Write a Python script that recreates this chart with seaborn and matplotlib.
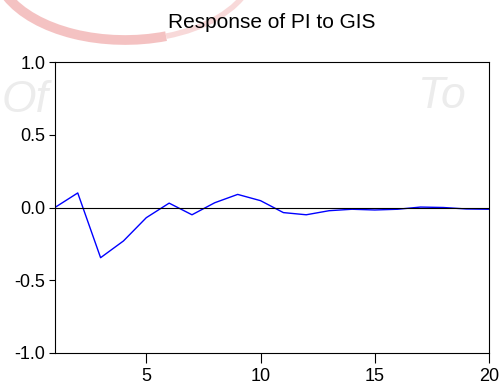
import matplotlib
matplotlib.use("Agg")
import matplotlib.pyplot as plt
import seaborn as sns
import pandas as pd
from matplotlib.patches import Arc

# impulse response of PI to a GIS shock
periods = list(range(1, 21))
response = [0.0, 0.10, -0.345, -0.23, -0.07, 0.03, -0.05, 0.033, 0.09, 0.047,
            -0.035, -0.05, -0.022, -0.012, -0.017, -0.012, 0.003, 0.0, -0.01, -0.012]
y_ticks = [-1.0, -0.5, 0.0, 0.5, 1.0]
x_labels = [5, 10, 15, 20]

df = pd.DataFrame({'period': periods, 'response': response})

sns.set_theme(style="white")
plt.rcParams['font.family'] = ['Liberation Sans', 'DejaVu Sans']

fig = plt.figure(figsize=(4.99, 3.91), dpi=100)

# faint watermark behind the chart
wm = fig.add_axes([0, 0, 1, 1], zorder=0)
wm.set_xlim(0, 499)
wm.set_ylim(391, 0)
wm.axis('off')
wm.add_patch(Arc((125, -35), 260, 150, theta1=60, theta2=165,
                 color='#f3b8b8', lw=7, alpha=0.85))
wm.add_patch(Arc((125, -35), 260, 150, theta1=10, theta2=60,
                 color='#f7d0d0', lw=4, alpha=0.8))
wm.text(2, 112, 'Of', fontsize=32, style='italic', color='#ececec')
wm.text(418, 108, 'To', fontsize=32, style='italic', color='#ececec')

ax = fig.add_axes([0.110, 0.0972, 0.870, 0.7442], zorder=1)
ax.patch.set_alpha(0)

sns.lineplot(data=df, x='period', y='response', color='#0000ff', linewidth=1.0, ax=ax)
ax.axhline(0, color='black', linewidth=0.8)

ax.set_xlim(1, 20)
ax.set_ylim(-1.0, 1.0)
ax.set_yticks(y_ticks)
ax.set_yticklabels([f'{v:.1f}' for v in y_ticks])
ax.set_xticks(x_labels)
ax.set_xticks(periods, minor=True)
ax.set_xlabel('')
ax.set_ylabel('')

ax.tick_params(axis='both', which='both', direction='out', color='black',
               labelsize=13, labelcolor='black')
ax.tick_params(axis='y', which='major', length=4.5, width=0.8, pad=2.5)
ax.tick_params(axis='x', which='major', length=7, width=0.8, pad=4)
ax.tick_params(axis='x', which='minor', length=4.5, width=0.8)
ax.tick_params(bottom=True, left=True)

for s in ax.spines.values():
    s.set_visible(True)
    s.set_color('black')
    s.set_linewidth(0.8)

fig.text(0.545, 0.943, 'Response of PI to GIS', ha='center', va='center',
         fontsize=15, color='black')

plt.savefig('out.png', dpi=100)
